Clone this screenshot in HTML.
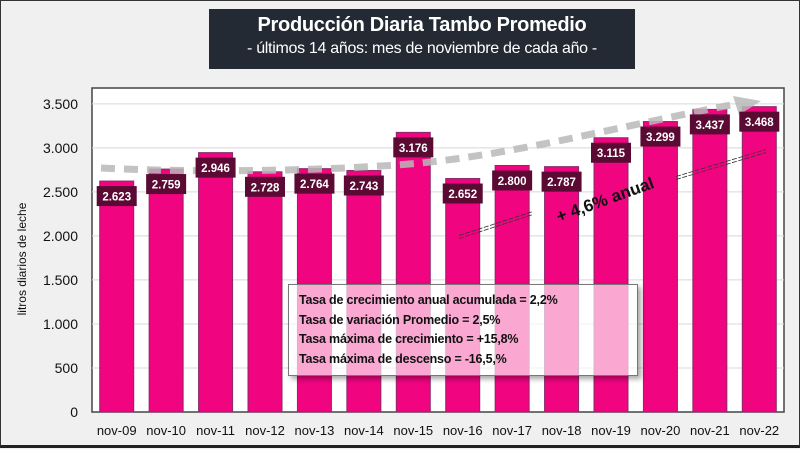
<!DOCTYPE html>
<html><head><meta charset="utf-8"><style>
body{margin:0;width:800px;height:448px;overflow:hidden;background:#f0f0f0;font-family:"Liberation Sans",sans-serif}
#root{position:relative;width:800px;height:448px;box-sizing:border-box;border:1px solid #333;border-bottom:3px solid #222;background:#f0f0f0}
#title{position:absolute;left:208px;top:8px;width:426px;height:60px;background:#232a33;color:#fff;text-align:center}
#title .t{font-weight:bold;font-size:20px;margin-top:5px;letter-spacing:-0.3px}
#title .s{font-size:16px;margin-top:3px;letter-spacing:-0.3px}
#info{position:absolute;left:287px;top:283px;width:350px;height:92px;box-sizing:border-box;border:1px solid #777;background:rgba(255,255,255,0.65);box-shadow:3px 3px 5px rgba(0,0,0,0.35);padding:6px 0 0 10px;font-weight:bold;font-size:12.5px;line-height:19.5px;color:#111;letter-spacing:-0.2px}
</style></head><body>
<div id="root">
<svg id="svg" width="800" height="448" style="position:absolute;left:0;top:0"></svg>
<div id="title"><div class="t">Producción Diaria Tambo Promedio</div><div class="s">- últimos 14 años: mes de noviembre de cada año -</div></div>
<div id="info">Tasa de crecimiento anual acumulada = 2,2%<br>Tasa de variación Promedio = 2,5%<br>Tasa máxima de crecimiento = +15,8%<br>Tasa máxima de descenso = -16,5,%</div>
</div>
<script>
const categories=["nov-09","nov-10","nov-11","nov-12","nov-13","nov-14","nov-15","nov-16","nov-17","nov-18","nov-19","nov-20","nov-21","nov-22"];
const values=[2623,2759,2946,2728,2764,2743,3176,2652,2800,2787,3115,3299,3437,3468];
const labels=["2.623","2.759","2.946","2.728","2.764","2.743","3.176","2.652","2.800","2.787","3.115","3.299","3.437","3.468"];
const ticks=[0,500,1000,1500,2000,2500,3000,3500];
const tickLabels=["0","500","1.000","1.500","2.000","2.500","3.000","3.500"];
const NS="http://www.w3.org/2000/svg";
const svg=document.getElementById('svg');
const L=91,R=783,T=87,B=411,YMAX=3680;
const y=v=>B-v/YMAX*(B-T);
const step=(R-L)/categories.length;
const x=i=>L+step*(i+0.5);
function mk(t,a,p){const e=document.createElementNS(NS,t);for(const k in a)e.setAttribute(k,a[k]);(p||svg).appendChild(e);return e;}
const bg=mk('rect',{x:L,y:T,width:R-L,height:B-T,fill:'#fff',stroke:'#444','stroke-width':1.5});


ticks.forEach((t,i)=>{
 if(t>0){const g=mk('line',{x1:L,x2:R,y1:y(t),y2:y(t),stroke:'#d8d8d8','stroke-width':1});
 
 }
 const tx=mk('text',{x:L-14,y:y(t)+5,'text-anchor':'end','font-size':14,fill:'#111'});tx.textContent=tickLabels[i];
 
 
});
const yt=mk('text',{x:0,y:0,transform:'translate(25,258) rotate(-90)','text-anchor':'middle','font-size':12,fill:'#111'});yt.textContent='litros diarios de leche';


values.forEach((v,i)=>{
 const cx=x(i),w=34;
 const b=mk('rect',{x:cx-w/2,y:y(v),width:w,height:B-y(v),fill:'#f0047f',stroke:'#8a2a6a','stroke-width':1});
 
 
 const c=mk('text',{x:cx,y:434,'text-anchor':'middle','font-size':13,fill:'#111'});c.textContent=categories[i];
 
 
});
const tr=mk('path',{d:'M100,167 C200,172 330,170 420,162 C520,152 620,125 735,103',fill:'none',stroke:'#b8b8b8','stroke-width':7,'stroke-dasharray':'14,9',opacity:0.85});


const ah=mk('polygon',{points:'732,95 760,100 738,114',fill:'#b8b8b8',opacity:0.85});


values.forEach((v,i)=>{
 const cx=x(i);
 const lb=mk('rect',{x:cx-20,y:y(v)+5,width:40,height:20,fill:'#5a0a33'});
 
 
 const t=mk('text',{x:cx,y:y(v)+19.5,'text-anchor':'middle','font-size':11.5,'font-weight':'bold',fill:'#fff'});t.textContent=labels[i];
 
 
});
[[458,236,532,212],[675,177,765,150]].forEach(s=>{
 [-1.5,1.5].forEach(o=>{const l=mk('line',{x1:s[0],y1:s[1]+o,x2:s[2],y2:s[3]+o,stroke:'#333','stroke-width':0.8,'stroke-dasharray':'5,1.5'});
 
 });
});
const at=mk('text',{x:0,y:0,transform:'translate(606,204) rotate(-20)','text-anchor':'middle','font-size':17,'font-weight':'bold',fill:'#111'});at.textContent='+ 4,6% anual';


</script>
</body></html>
